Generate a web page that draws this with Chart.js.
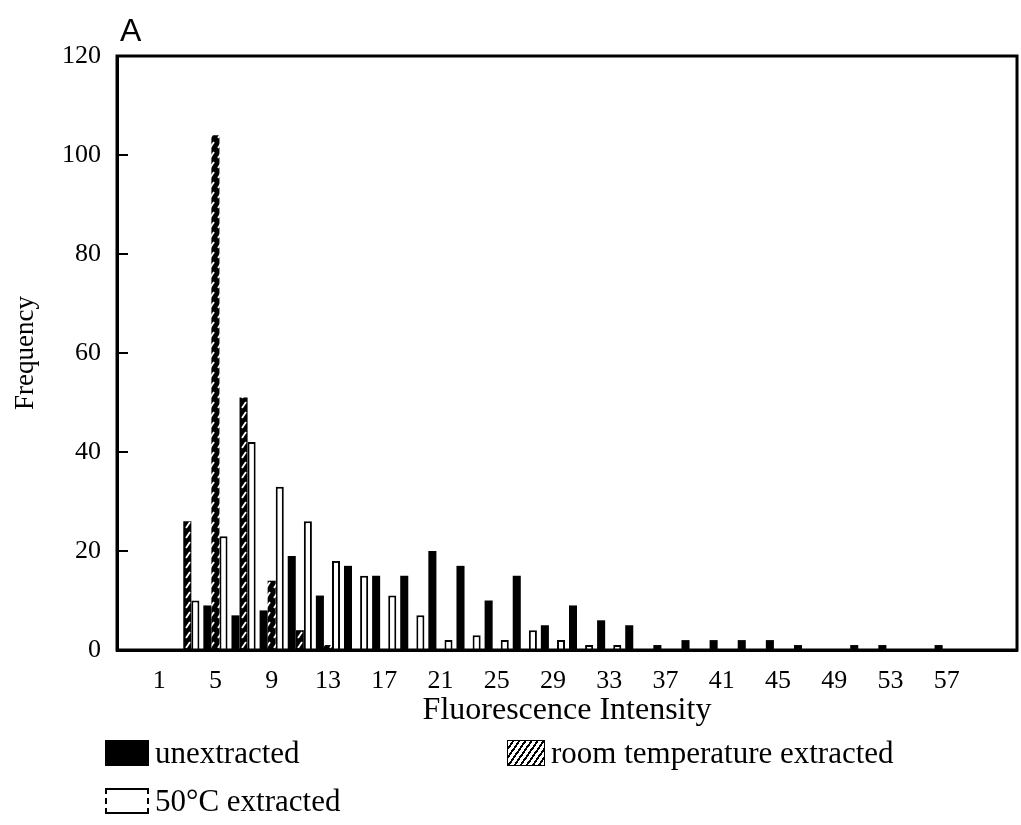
<!DOCTYPE html>
<html>
<head>
<meta charset="utf-8">
<script src="https://cdn.jsdelivr.net/npm/chart.js@4.4.1/dist/chart.umd.min.js"></script>
<style>
  body { margin: 0; background: #fff; }
  #wrap { position: relative; width: 1021px; height: 825px; }
  #panel { position: absolute; left: 120px; top: 12px; font: 32px "Liberation Sans", Arial, sans-serif; }
  .leg { position: absolute; font: 31px "Liberation Serif", serif; color: #000; display: flex; align-items: center; }
  .sw { display: inline-block; width: 44px; height: 26px; margin-right: 6px; box-sizing: border-box; }
  .sw.black { background: #000; }
  .sw.hatch { width: 38px; border: 1px solid #000;
    background: repeating-linear-gradient(-55deg, #fff 0 3px, #000 3px 5px); }
  .sw.white { background: #fff; border: 2px solid #000; border-left-style: dashed; border-right-style: dashed; }
</style>
</head>
<body>
<div id="wrap">
  <canvas id="chart"></canvas>
  <div id="panel">A</div>
  <div class="leg" style="left:105px; top:735px;"><span class="sw black"></span>unextracted</div>
  <div class="leg" style="left:507px; top:735px;"><span class="sw hatch"></span>room temperature extracted</div>
  <div class="leg" style="left:105px; top:783px;"><span class="sw white"></span>50°C extracted</div>
</div>
<script>
// Fluorescence intensity bins (first slot is an empty bin left of 1)
const categories = ['', 1, 3, 5, 7, 9, 11, 13, 15, 17, 19, 21, 23, 25, 27, 29, 31,
  33, 35, 37, 39, 41, 43, 45, 47, 49, 51, 53, 55, 57, 59, 61];
const tickLabels = [1, 5, 9, 13, 17, 21, 25, 29, 33, 37, 41, 45, 49, 53, 57];

const unextracted = [0, 0, 0, 9, 7, 8, 19, 11, 17, 15, 15, 20, 17, 10, 15, 5, 9,
  6, 5, 1, 2, 2, 2, 2, 1, 0, 1, 1, 0, 1, 0, 0];
const roomTemp = [0, 0, 26, 104, 51, 14, 4, 1, 0, 0, 0, 0, 0, 0, 0, 0, 0,
  0, 0, 0, 0, 0, 0, 0, 0, 0, 0, 0, 0, 0, 0, 0];
const extracted50 = [0, 0, 10, 23, 42, 33, 26, 18, 15, 11, 7, 2, 3, 2, 4, 2, 1,
  1, 0, 0, 0, 0, 0, 0, 0, 0, 0, 0, 0, 0, 0, 0];

// black bar with white slanted dashes
function makeHatch() {
    const c = document.createElement('canvas');
    c.width = 8; c.height = 10;
    const g = c.getContext('2d');
    g.fillStyle = '#000';
    g.fillRect(0, 0, 8, 10);
    g.strokeStyle = '#fff';
    g.lineWidth = 1.8;
    g.beginPath();
    g.moveTo(2, 8);
    g.lineTo(6, 2);
    g.stroke();
    return g.createPattern(c, 'repeat');
}

// frame + inward y ticks
const framePlugin = {
    id: 'frame',
    afterDraw(chart) {
        const ctx = chart.ctx;
        const a = chart.chartArea;
        const y = chart.scales.y;
        ctx.save();
        ctx.strokeStyle = '#000';
        ctx.lineWidth = 3;
        ctx.strokeRect(a.left, a.top, a.right - a.left, a.bottom - a.top);
        ctx.lineWidth = 2;
        y.ticks.forEach((t, i) => {
            const py = y.getPixelForTick(i);
            ctx.beginPath();
            ctx.moveTo(a.left, py);
            ctx.lineTo(a.left + 11, py);
            ctx.stroke();
        });
        ctx.restore();
    }
};

const serif = '"Liberation Serif", "Times New Roman", serif';

new Chart(document.getElementById('chart'), {
    type: 'bar',
    data: {
        labels: categories,
        datasets: [
            { label: 'unextracted', data: unextracted, backgroundColor: '#000', borderWidth: 0 },
            { label: 'room temperature extracted', data: roomTemp, backgroundColor: makeHatch(), borderWidth: 0 },
            { label: '50°C extracted', data: extracted50, backgroundColor: '#fff', borderColor: '#000', borderWidth: 2 }
        ]
    },
    options: {
        responsive: true,
        maintainAspectRatio: false,
        animation: false,
        layout: { padding: { left: 0, right: 4, top: 56, bottom: 95 } },
        datasets: { bar: { categoryPercentage: 0.86, barPercentage: 1.0 } },
        plugins: { legend: { display: false }, tooltip: { enabled: false } },
        scales: {
            x: {
                grid: { display: false },
                border: { display: true, color: '#000', width: 3 },
                ticks: {
                    autoSkip: false,
                    maxRotation: 0,
                    padding: 8,
                    color: '#000',
                    font: { family: serif, size: 26 },
                    callback: function (val, i) {
                        const c = categories[i];
                        return tickLabels.includes(c) ? String(c) : '';
                    }
                },
                title: {
                    display: true,
                    text: 'Fluorescence Intensity',
                    color: '#000',
                    font: { family: serif, size: 32 },
                    padding: { top: 0, bottom: 0 }
                },
                afterFit: function (scale) { scale.height = 80; }
            },
            y: {
                min: 0,
                max: 120,
                grid: { display: false },
                border: { display: true, color: '#000', width: 3 },
                ticks: {
                    stepSize: 20,
                    padding: 8,
                    color: '#000',
                    font: { family: serif, size: 26 }
                },
                title: {
                    display: true,
                    text: 'Frequency',
                    color: '#000',
                    font: { family: serif, size: 27 },
                    padding: { top: 10, bottom: 0 }
                },
                afterFit: function (scale) { scale.width = 117; }
            }
        }
    },
    plugins: [framePlugin]
});
</script>
</body>
</html>
